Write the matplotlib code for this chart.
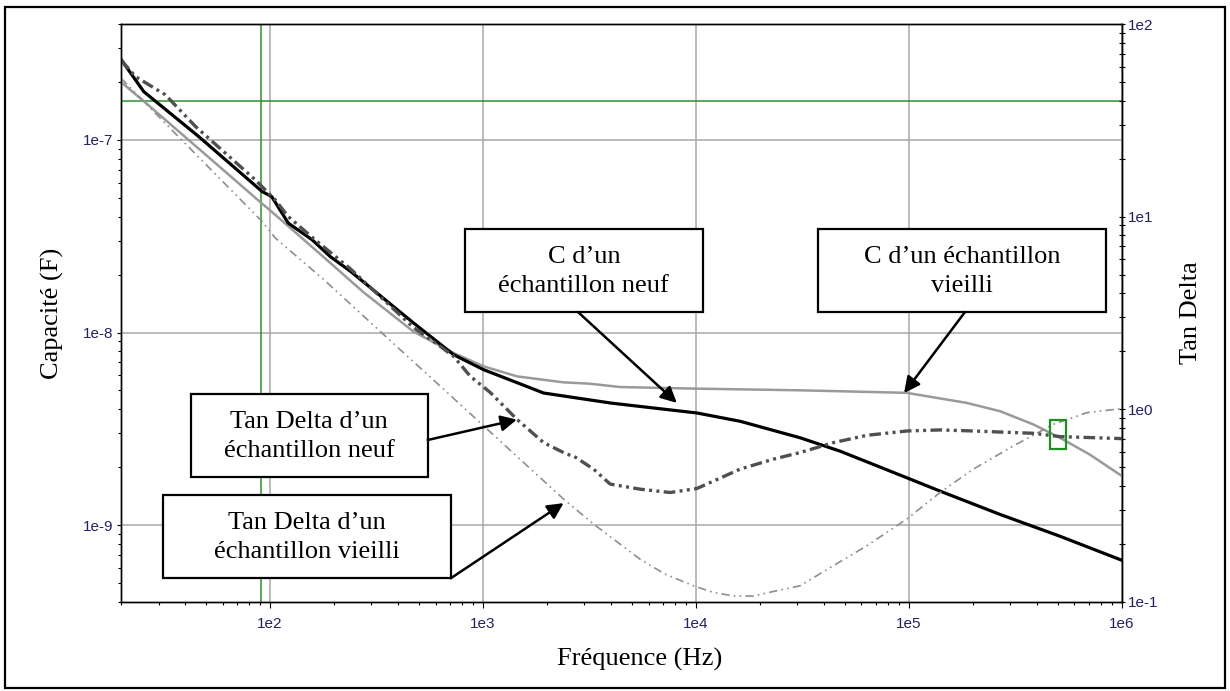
import numpy as np
import matplotlib.pyplot as plt
from matplotlib.patches import Rectangle
from matplotlib.ticker import FuncFormatter, NullFormatter

# capacitance of the new sample (F)
freq_c_neuf = [20, 25.6, 46.4, 91.9, 102, 122, 158, 192, 239, 473, 729, 1009, 1930, 4000,
               10120, 16150, 30900, 47600, 98000, 140500, 268800, 513000, 1e6]
c_neuf = [2.62e-7, 1.78e-7, 1.04e-7, 5.40e-8, 5.08e-8, 3.70e-8, 3.03e-8, 2.48e-8, 2.08e-8, 1.12e-8,
          7.67e-9, 6.41e-9, 4.85e-9, 4.30e-9, 3.82e-9, 3.46e-9, 2.84e-9, 2.42e-9, 1.76e-9,
          1.50e-9, 1.135e-9, 8.75e-10, 6.57e-10]

# capacitance of the aged sample (F)
freq_c_vieilli = [20, 27.0, 38.7, 55.5, 91.9, 100.5, 141.6, 192, 275, 473, 729, 1009, 1446, 2395,
                  3190, 4415, 10120, 30900, 98000, 187000, 268800, 385000, 513000, 710000, 1e6]
c_vieilli = [2.00e-7, 1.51e-7, 1.07e-7, 7.58e-8, 4.67e-8, 4.30e-8, 3.09e-8, 2.30e-8, 1.62e-8, 1.01e-8,
             7.83e-9, 6.67e-9, 5.92e-9, 5.51e-9, 5.42e-9, 5.21e-9, 5.11e-9, 5.01e-9, 4.86e-9, 4.31e-9,
             3.90e-9, 3.33e-9, 2.84e-9, 2.32e-9, 1.80e-9]

# tan delta, new sample
freq_td_neuf = [20, 23.4, 32.3, 44.7, 85.5, 106, 122, 158, 239, 473, 631, 729, 874, 1084, 1446, 1930,
                2483, 2668, 3311, 3965, 5483, 7586, 10120, 16150, 23170, 30900, 44300, 63500, 98000,
                140400, 201000, 385000, 513000, 1e6]
td_neuf = [65.0, 53.3, 42.9, 29.4, 15.5, 12.2, 10.0, 7.8, 5.35, 2.65, 2.12, 1.88, 1.48, 1.22, 0.885,
           0.670, 0.583, 0.571, 0.488, 0.408, 0.384, 0.369, 0.387, 0.488, 0.550, 0.595, 0.670, 0.731,
           0.770, 0.780, 0.770, 0.749, 0.720, 0.703]

# tan delta, aged sample
freq_td_vieilli = [20, 30.1, 91.9, 106, 179, 395, 566, 1009, 1862, 2395, 3311, 5483, 7180, 9750,
                   12000, 15030, 18660, 22300, 30900, 44300, 63500, 98000, 140400, 201000, 310000,
                   478000, 686000, 1e6]
td_vieilli = [52.3, 33.0, 9.44, 7.74, 4.71, 2.11, 1.47, 0.818, 0.44, 0.341, 0.253, 0.166, 0.139, 0.121,
              0.112, 0.107, 0.107, 0.112, 0.121, 0.154, 0.195, 0.269, 0.369, 0.488, 0.644, 0.834,
              0.959, 1.006]

# cursors
cursor_freq = 91
cursor_td = 40
marker_freq = (460000, 547000)
marker_td = (0.619, 0.875)

labels = ["C d\u2019un\n\u00e9chantillon neuf",
          "C d\u2019un \u00e9chantillon\nvieilli",
          "Tan Delta d\u2019un\n\u00e9chantillon neuf",
          "Tan Delta d\u2019un\n\u00e9chantillon vieilli"]
# what each callout points at: (axis, frequency, value)
targets = [("C", 8150, 4.31e-9), ("C", 95100, 4.85e-9),
           ("TD", 1445, 0.882), ("TD", 2395, 0.325)]

W, H = 1230, 691
serif = 'Liberation Serif'
tick_col = '#22225e'

fig = plt.figure(figsize=(W / 100, H / 100), dpi=100)
ax = fig.add_axes([121 / W, (H - 601.7) / H, 1000.7 / W, 577.7 / H])
ax.set_xscale('log')
ax.set_yscale('log')
ax.set_xlim(20, 1e6)
ax.set_ylim(4e-10, 4e-7)
ax2 = ax.twinx()
ax2.set_yscale('log')
ax2.set_ylim(0.1, 100)

fmt = FuncFormatter(lambda v, p: '1e%d' % int(round(np.log10(v))))
for a in (ax.xaxis, ax.yaxis, ax2.yaxis):
    a.set_major_formatter(fmt)
    a.set_minor_formatter(NullFormatter())

ax.grid(which='major', color='#a8a8a8', lw=1.1)
ax.set_axisbelow(True)
ax.tick_params(axis='x', which='major', direction='out', length=4, width=0.8, pad=7,
               labelsize=11, labelcolor=tick_col, labelfontfamily='Liberation Sans')
ax.tick_params(axis='x', which='minor', direction='out', length=2.5, width=0.8)
ax.tick_params(axis='y', which='major', direction='out', length=3, width=0.8, pad=2.5,
               labelsize=11, labelcolor=tick_col, labelfontfamily='Liberation Sans')
ax.tick_params(axis='y', which='minor', direction='out', length=2.5, width=0.8)
ax2.tick_params(axis='y', which='major', direction='inout', length=5, width=0.8, pad=2,
                labelsize=11, labelcolor=tick_col, labelfontfamily='Liberation Sans')
ax2.tick_params(axis='y', which='minor', direction='inout', length=4, width=0.8)
for a in (ax, ax2):
    for s in a.spines.values():
        s.set_linewidth(1.0)

# cursor lines
ax.axvline(cursor_freq, color='#2f8f2f', lw=1.1, zorder=1.5)
ax.axhline(cursor_td / 2.5e8, color='#2f8f2f', lw=1.1, zorder=1.5)

ax.plot(freq_c_vieilli, c_vieilli, color='#9a9a9a', lw=1.8, zorder=3)
ax.plot(freq_c_neuf, c_neuf, color='black', lw=2.3, zorder=4)
ax2.plot(freq_td_vieilli, td_vieilli, color='#8e8e8e', lw=1.2,
         linestyle=(0, (5, 2.5, 1, 2.5, 1, 2.5)))
ax2.plot(freq_td_neuf, td_neuf, color='#4f4f4f', lw=2.4,
         linestyle=(0, (3.5, 1.3, 0.9, 1.3, 0.9, 1.3)))
ax2.add_patch(Rectangle((marker_freq[0], marker_td[0]), marker_freq[1] - marker_freq[0],
                        marker_td[1] - marker_td[0], fill=False, ec='#1f8f1f', lw=1.6, zorder=5))

# overlay in pixel coordinates for frame, callouts and titles
ov = fig.add_axes([0, 0, 1, 1], zorder=5)
ov.set_xlim(0, W)
ov.set_ylim(H, 0)
ov.axis('off')

ov.add_patch(Rectangle((5, 7), 1220, 681, fill=False, ec='black', lw=1.6))

box_pos = [(465, 229, 702.7, 312), (818, 229, 1106, 312),
           (190.7, 394, 427.7, 477.3), (163, 495, 450.7, 578.3)]
arrow_start = [(578, 312), (965, 312), (427.7, 440), (450.7, 578.3)]

for lab, (x0, y0, x1, y1), start, (which, f, v) in zip(labels, box_pos, arrow_start, targets):
    ov.add_patch(Rectangle((x0, y0), x1 - x0, y1 - y0, fc='white', ec='black', lw=1.6))
    ov.text((x0 + x1) / 2, (y0 + y1) / 2 + 1, lab, ha='center', va='center',
            fontsize=19, family=serif, linespacing=1.4)
    tr = ax.transData if which == "C" else ax2.transData
    ov.annotate('', xy=(f, v), xycoords=tr, xytext=start, textcoords='data',
                arrowprops=dict(arrowstyle='-|>', mutation_scale=24, lw=1.8, color='black',
                                shrinkA=0, shrinkB=0))

ov.text(639.7, 659, 'Fr\u00e9quence (Hz)', ha='center', va='center', fontsize=19, family=serif)
ov.text(52, 313, 'Capacit\u00e9 (F)', ha='center', va='center', rotation=90, fontsize=19, family=serif)
ov.text(1191, 313, 'Tan Delta', ha='center', va='center', rotation=90, fontsize=19, family=serif)

fig.savefig('out.png', dpi=100)
